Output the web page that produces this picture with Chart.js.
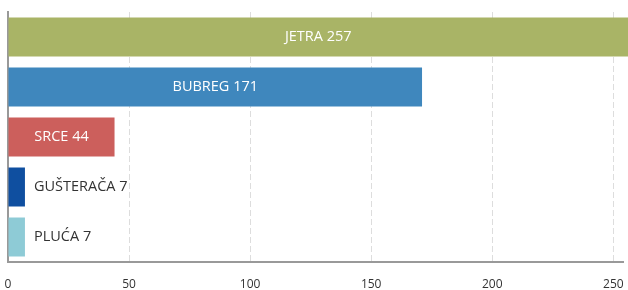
<!DOCTYPE html>
<html>
<head>
<meta charset="utf-8">
<script src="https://cdn.jsdelivr.net/npm/chart.js@4"></script>
<style>
  html, body { margin: 0; padding: 0; background: #fff; }
  #wrap { width: 628px; height: 290px; }
</style>
</head>
<body>
<div id="wrap"><canvas id="organChart"></canvas></div>
<script>
// Chart data
const organs = ['JETRA', 'BUBREG', 'SRCE', 'GUŠTERAČA', 'PLUĆA'];
const counts = [257, 171, 44, 7, 7];
const barColors = ['#a9b466', '#3f87bd', '#cc5f5c', '#0f4fa0', '#8ecbd6'];
const xTicks = [0, 50, 100, 150, 200, 250];

const labelFont = '14.5px "Open Sans", sans-serif';

/**
 * Draw "NAME value" inside the bar when it fits, otherwise after it
 */
const barLabels = {
  id: 'barLabels',
  afterDatasetsDraw(chart) {
    const ctx = chart.ctx;
    const meta = chart.getDatasetMeta(0);
    ctx.save();
    ctx.font = labelFont;
    ctx.textBaseline = 'middle';
    meta.data.forEach((bar, i) => {
      const text = organs[i] + ' ' + counts[i];
      const w = ctx.measureText(text).width;
      const left = bar.base;
      const right = Math.min(bar.x, chart.width);
      if (w + 20 < right - left) {
        ctx.fillStyle = '#ffffff';
        ctx.textAlign = 'center';
        ctx.fillText(text, (left + right) / 2, bar.y);
      } else {
        ctx.fillStyle = '#333333';
        ctx.textAlign = 'left';
        ctx.fillText(text, bar.x + 9, bar.y);
      }
    });
    ctx.restore();
  }
};

function initializeChart() {
  const ctx = document.getElementById('organChart');
  new Chart(ctx, {
    type: 'bar',
    data: {
      labels: organs,
      datasets: [{
        data: counts,
        backgroundColor: barColors,
        borderWidth: 0,
        categoryPercentage: 0.8,
        barPercentage: 0.975,
        clip: false
      }]
    },
    options: {
      indexAxis: 'y',
      responsive: true,
      maintainAspectRatio: false,
      animation: false,
      layout: { padding: { left: 8, right: 5, top: 12, bottom: 0 } },
      plugins: {
        legend: { display: false },
        tooltip: { enabled: false }
      },
      scales: {
        x: {
          min: 0,
          max: 254,
          afterBuildTicks: (axis) => { axis.ticks = xTicks.map(v => ({ value: v })); },
          afterFit: (axis) => {
            axis.height = 28;
            axis.paddingLeft = 0;
            axis.paddingRight = 0;
          },
          grid: { color: '#dddddd', drawTicks: false, lineWidth: 1 },
          border: { display: true, color: '#999999', width: 2, dash: [6, 3] },
          ticks: {
            color: '#333333',
            padding: 15,
            font: { family: '"Open Sans", sans-serif', size: 12 }
          }
        },
        y: {
          afterFit: (axis) => { axis.width = 0; },
          grid: { display: false, drawTicks: false },
          border: { display: true, color: '#999999', width: 2 },
          ticks: { display: false }
        }
      }
    },
    plugins: [barLabels]
  });
}

document.addEventListener('DOMContentLoaded', function() {
  initializeChart();
});
</script>
</body>
</html>
